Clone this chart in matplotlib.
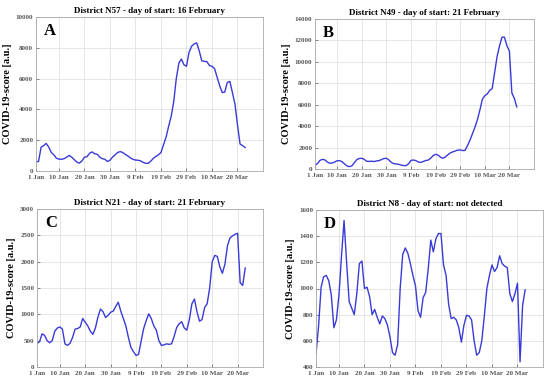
import matplotlib
matplotlib.use('Agg')
import matplotlib.pyplot as plt
import numpy as np

# days since 1 Jan 2020
tick_days = [0, 9, 19, 29, 39, 49, 59, 69, 79]
tick_labels = ['1 Jan', '10 Jan', '20 Jan', '30 Jan', '9 Feb', '19 Feb', '29 Feb', '10 Mar', '20 Mar']

titles = ['District N57 - day of start: 16 February',
          'District N49 - day of start: 21 February',
          'District N21 - day of start: 21 February',
          'District N8 - day of start: not detected']
letters = ['A', 'B', 'C', 'D']

score_n57 = [600, 620, 1550, 1650, 1790, 1550, 1200, 1050, 830, 770,
             760, 800, 900, 1010, 900, 740, 580, 510, 650, 900,
             930, 1150, 1240, 1120, 1090, 900, 800, 760, 620, 700,
             900, 1050, 1200, 1260, 1200, 1080, 980, 850, 760, 710,
             700, 660, 560, 500, 500, 640, 820, 950, 1050, 1200,
             1700, 2200, 2900, 3550, 4500, 6000, 7000, 7270, 6900, 6800,
             7700, 8100, 8250, 8320, 7800, 7150, 7120, 7100, 6850, 6800,
             6650, 6100, 5550, 5100, 5120, 5750, 5820, 5100, 4350, 3000,
             1750, 1650, 1520]

score_n49 = [370, 500, 800, 900, 850, 650, 540, 560, 650, 770,
             780, 680, 480, 280, 220, 300, 600, 880, 980, 1000,
             900, 720, 710, 720, 700, 750, 780, 880, 980, 1000,
             850, 620, 500, 470, 440, 360, 320, 310, 480, 800,
             840, 780, 650, 610, 700, 790, 830, 1000, 1250, 1370,
             1300, 1100, 1000, 1120, 1330, 1500, 1600, 1680, 1760, 1780,
             1720, 1740, 2200, 2700, 3300, 3900, 4600, 5500, 6500, 6850,
             7000, 7350, 7500, 9000, 10500, 11500, 12300, 12300, 11500, 11000,
             7100, 6600, 5800]

score_n21 = [450, 480, 630, 600, 500, 460, 500, 680, 740, 760,
             720, 440, 410, 450, 560, 720, 730, 760, 920, 850,
             780, 680, 620, 740, 950, 1100, 1050, 940, 980, 1040,
             1060, 1150, 1230, 1060, 920, 780, 560, 370, 290, 220,
             240, 490, 730, 880, 1010, 920, 780, 700, 500, 410,
             420, 440, 430, 440, 580, 750, 820, 860, 740, 700,
             900, 1200, 1290, 1050, 870, 900, 1130, 1200, 1500, 2000,
             2120, 2100, 1900, 1780, 1950, 2300, 2450, 2490, 2520, 2540,
             1600, 1550, 1880]

score_n8 = [500, 710, 1010, 1090, 1100, 1060, 950, 700, 760, 950,
            1250, 1520, 1200, 900, 850, 800, 960, 1190, 1210, 1000,
            1010, 940, 800, 840, 780, 730, 790, 770, 720, 630,
            510, 490, 570, 1000, 1260, 1310, 1270, 1190, 1100, 1020,
            830, 780, 930, 970, 1150, 1370, 1280, 1380, 1420, 1420,
            1180, 1100, 880, 770, 780, 760, 700, 590, 720, 795,
            790, 760, 600, 490, 510, 600, 790, 1000, 1100, 1180,
            1130, 1160, 1250, 1190, 1170, 1160, 960, 900, 960, 1040,
            440, 870, 990]

series = [score_n57, score_n49, score_n21, score_n8]
ylims = [(0, 10000), (0, 14000), (0, 3000), (400, 1600)]
ysteps = [2000, 2000, 500, 200]

# axes boxes in pixels: left, top, right, bottom
boxes = [(36, 17, 263, 171), (315, 19, 534, 169),
         (37, 209, 263, 367), (316, 210, 543, 367)]

W, H = 550, 386
fig = plt.figure(figsize=(W / 100, H / 100), dpi=100)
serif = 'Liberation Serif'

for i in range(4):
    l, t, r, b = boxes[i]
    ax = fig.add_axes([l / W, 1 - b / H, (r - l) / W, (b - t) / H])
    y = series[i]
    ax.plot(np.arange(len(y)), y, color='#3a3ad8', lw=1.0)
    ax.set_xlim(0, 89)
    ax.set_ylim(*ylims[i])
    ax.set_yticks(np.arange(ylims[i][0], ylims[i][1] + 1, ysteps[i]))
    ax.set_xticks(tick_days)
    ax.set_xticklabels(tick_labels)
    ax.grid(True, color='#e2e2e2', lw=0.6)
    ax.set_axisbelow(True)
    for lab in ax.get_xticklabels() + ax.get_yticklabels():
        lab.set_fontfamily(serif)
        lab.set_fontsize(5)
        lab.set_fontweight('bold')
        lab.set_color('#222222')
    ax.tick_params(axis='both', direction='in', length=2, width=0.5, colors='#555555')
    ax.tick_params(axis='x', pad=3)
    ax.tick_params(axis='y', pad=2)
    for s in ax.spines.values():
        s.set_color('#aaaaaa')
        s.set_linewidth(0.6)
    ax.set_title(titles[i], fontfamily=serif, fontsize=6.5, fontweight='bold', pad=3)
    ax.set_ylabel('COVID-19-score [a.u.]', fontfamily=serif, fontsize=7.5,
                  fontweight='bold', labelpad=3)
    ax.text(0.035, 0.96, letters[i], transform=ax.transAxes, ha='left', va='top',
            fontfamily=serif, fontsize=12, fontweight='bold')

fig.savefig('out.png', dpi=100)
